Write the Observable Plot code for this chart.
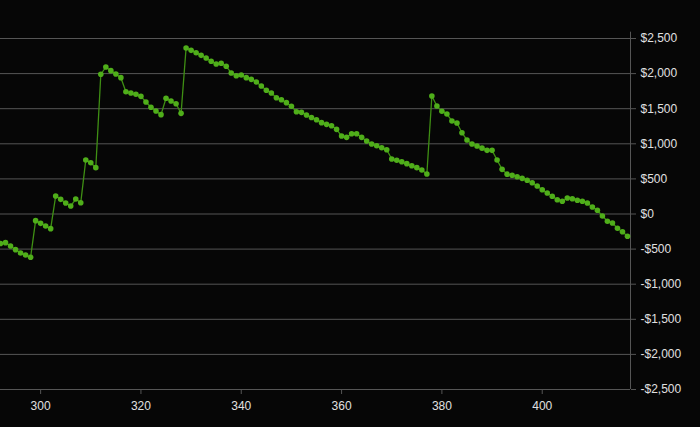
<!DOCTYPE html>
<html>
<head>
<meta charset="utf-8">
<script src="https://cdn.jsdelivr.net/npm/d3@7"></script>
<script src="https://cdn.jsdelivr.net/npm/@observablehq/plot@0.6"></script>
<style>
  html, body { margin: 0; padding: 0; background: #060606; }
</style>
</head>
<body>
<div id="chart"></div>
<script>
const trade = [292,293,294,295,296,297,298,299,300,301,302,303,304,305,306,307,308,309,310,311,
  312,313,314,315,316,317,318,319,320,321,322,323,324,325,326,327,328,329,330,331,
  332,333,334,335,336,337,338,339,340,341,342,343,344,345,346,347,348,349,350,351,
  352,353,354,355,356,357,358,359,360,361,362,363,364,365,366,367,368,369,370,371,
  372,373,374,375,376,377,378,379,380,381,382,383,384,385,386,387,388,389,390,391,
  392,393,394,395,396,397,398,399,400,401,402,403,404,405,406,407,408,409,410,411,
  412,413,414,415,416,417];
const equity = [-420,-408,-456,-508,-556,-584,-617,-95,-133,-171,-209,256,209,157,114,213,161,769,731,660,
  1990,2094,2042,1994,1942,1742,1724,1705,1676,1595,1520,1467,1415,1648,1610,1571,1434,2365,2331,2298,
  2260,2222,2175,2137,2147,2104,2009,1970,1980,1942,1918,1880,1823,1762,1724,1657,1628,1586,1534,1457,
  1448,1410,1374,1342,1301,1277,1258,1206,1111,1092,1144,1144,1092,1040,997,973,944,916,783,765,
  745,717,688,660,627,570,1681,1538,1463,1424,1325,1296,1158,1054,997,969,938,907,907,769,
  636,568,551,530,508,480,446,399,346,299,252,204,181,228,218,195,181,157,100,53,
  -28,-104,-128,-204,-252,-318];
const xTicks = [300, 320, 340, 360, 380, 400];
const yTicks = [-2500, -2000, -1500, -1000, -500, 0, 500, 1000, 1500, 2000, 2500];

const data = trade.map((t, i) => ({trade: t, value: equity[i]}));
const fmt = d3.format(",");
const money = d => (d < 0 ? "-$" : "$") + fmt(Math.abs(d));

const xMax = 417.6;
const grid = "#555555";

const chart = Plot.plot({
  width: 700,
  height: 427,
  marginLeft: 0,
  marginRight: 70,
  marginTop: 38,
  marginBottom: 38,
  style: {background: "#060606", color: "#e0e0e0", fontFamily: "'Liberation Sans', Arial, sans-serif", fontSize: "12px"},
  x: {domain: [292, xMax]},
  y: {domain: [-2500, 2500]},
  marks: [
    Plot.ruleY(yTicks, {x1: 292, x2: xMax, stroke: grid, strokeWidth: 1, clip: false}),
    Plot.ruleX([xMax], {y1: -2500, y2: 2590, stroke: grid, strokeWidth: 1}),
    Plot.axisY(yTicks, {anchor: "right", tickFormat: money, tickSize: 5, tickPadding: 5, stroke: grid, fill: "#e0e0e0", label: null, fontSize: 12}),
    Plot.axisX(xTicks, {anchor: "bottom", tickSize: 5, tickPadding: 7, stroke: grid, fill: "#e0e0e0", label: null, fontSize: 12}),
    Plot.line(data, {x: "trade", y: "value", stroke: "#3f8f14", strokeWidth: 1.3}),
    Plot.dot(data, {x: "trade", y: "value", r: 2.8, fill: "#4fae1a", stroke: "none"})
  ]
});
document.getElementById("chart").appendChild(chart);
</script>
</body>
</html>
